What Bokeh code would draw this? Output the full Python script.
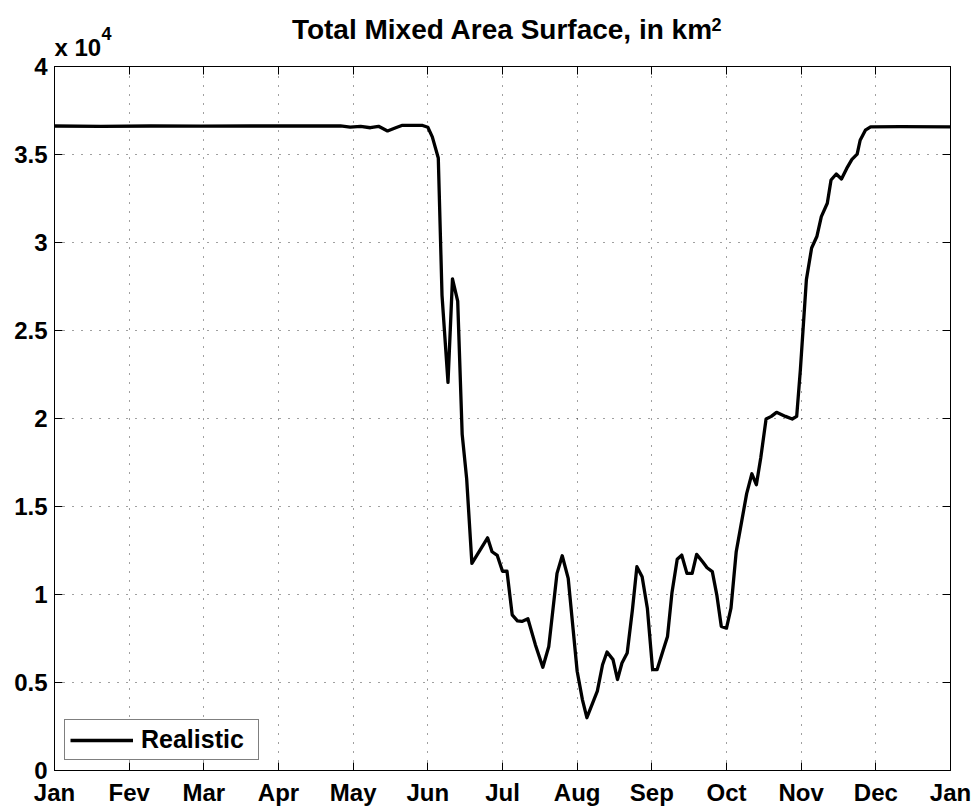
from bokeh.plotting import figure
from bokeh.models import (Range1d, FixedTicker, LinearAxis, Title,
                          CustomJSTickFormatter, CustomLabelingPolicy)
from bokeh.embed import file_html
from bokeh.resources import INLINE

# ---------------- data ----------------
month_labels = ["Jan", "Fev", "Mar", "Apr", "May", "Jun", "Jul", "Aug",
                "Sep", "Oct", "Nov", "Dec", "Jan"]
month_ticks = list(range(13))
y_ticks = [0, 0.5, 1, 1.5, 2, 2.5, 3, 3.5, 4]

# time in months since 1 Jan
time_month = [0.00, 0.62, 1.29, 1.96, 2.63, 3.30, 3.83, 3.96, 4.10, 4.23,
              4.34, 4.46, 4.57, 4.66, 4.93, 5.00, 5.06, 5.14, 5.19, 5.27,
              5.33, 5.40, 5.46, 5.52, 5.59, 5.80, 5.86, 5.93, 6.00, 6.06,
              6.13, 6.20, 6.26, 6.34, 6.44, 6.54, 6.62, 6.73, 6.80, 6.88,
              7.00, 7.07, 7.13, 7.27, 7.34, 7.40, 7.48, 7.54, 7.60, 7.67,
              7.74, 7.80, 7.87, 7.94, 8.01, 8.07, 8.14, 8.21, 8.27, 8.34,
              8.40, 8.47, 8.54, 8.60, 8.68, 8.74, 8.81, 8.87, 8.93, 9.00,
              9.06, 9.13, 9.19, 9.27, 9.34, 9.40, 9.46, 9.53, 9.60, 9.67,
              9.79, 9.88, 9.94, 9.99, 10.07, 10.14, 10.21, 10.27, 10.35, 10.40,
              10.47, 10.54, 10.61, 10.68, 10.75, 10.79, 10.86, 10.93, 11.33, 12.00]

# total mixed area, in units of 10^4 km^2
realistic_area = [3.662, 3.660, 3.662, 3.661, 3.662, 3.662, 3.662, 3.655, 3.660, 3.652,
                  3.660, 3.634, 3.652, 3.666, 3.665, 3.655, 3.600, 3.480, 2.700, 2.205,
                  2.793, 2.667, 1.910, 1.658, 1.177, 1.322, 1.243, 1.222, 1.132, 1.132,
                  0.884, 0.850, 0.847, 0.862, 0.715, 0.587, 0.705, 1.120, 1.220, 1.092,
                  0.564, 0.403, 0.300, 0.451, 0.601, 0.673, 0.630, 0.517, 0.611, 0.668,
                  0.913, 1.158, 1.101, 0.922, 0.573, 0.573, 0.668, 0.762, 1.012, 1.200,
                  1.224, 1.120, 1.120, 1.228, 1.186, 1.152, 1.130, 0.998, 0.819, 0.809,
                  0.922, 1.243, 1.384, 1.573, 1.686, 1.624, 1.780, 1.997, 2.012, 2.035,
                  2.012, 1.997, 2.012, 2.280, 2.789, 2.969, 3.034, 3.147, 3.223, 3.355,
                  3.389, 3.361, 3.421, 3.472, 3.502, 3.581, 3.638, 3.657, 3.658, 3.657]

FONT = "Liberation Sans"

p = figure(width=973, height=808, output_backend="svg", toolbar_location=None,
           x_range=Range1d(0, 12), y_range=Range1d(0, 4),
           min_border_left=54, min_border_right=23, min_border_top=66,
           min_border_bottom=35)
p.background_fill_color = "white"
p.border_fill_color = "white"
p.outline_line_color = "black"
p.outline_line_width = 1

xt = FixedTicker(ticks=month_ticks)
yt = FixedTicker(ticks=y_ticks)
hide_all = "for (const i of indices) { indices.unset(i) }\nreturn indices"

def style_axis(ax, show_labels):
    ax.axis_line_color = "black"
    ax.axis_line_width = 1
    ax.major_tick_in = 8
    ax.major_tick_out = 0
    ax.major_tick_line_color = "black"
    ax.minor_tick_in = 0
    ax.minor_tick_out = 0
    ax.major_label_text_font = FONT
    ax.major_label_text_font_style = "bold"
    ax.major_label_text_color = "black"
    if show_labels:
        ax.major_label_text_font_size = "24px"
        ax.major_label_standoff = 7
    else:
        ax.major_label_text_font_size = "1px"
        ax.major_label_standoff = 0
        ax.major_label_policy = CustomLabelingPolicy(code=hide_all)

p.xaxis.ticker = xt
p.xaxis.major_label_overrides = {t: m for t, m in zip(month_ticks, month_labels)}
style_axis(p.xaxis[0], True)
p.xaxis.major_label_standoff = 8
p.yaxis.ticker = yt
p.yaxis.formatter = CustomJSTickFormatter(code="return String(tick);")
style_axis(p.yaxis[0], True)

top = LinearAxis(ticker=xt)
style_axis(top, False)
p.add_layout(top, "above")
right = LinearAxis(ticker=yt)
style_axis(right, False)
p.add_layout(right, "right")

p.xgrid.ticker = xt
p.ygrid.ticker = yt
for g in (p.xgrid[0], p.ygrid[0]):
    g.grid_line_color = "black"
    g.grid_line_alpha = 0.75
    g.grid_line_width = 1
    g.grid_line_dash = "1 8"

p.line(time_month, realistic_area, line_color="black", line_width=3.3,
       line_join="round", legend_label="Realistic")

def title(text, size, align, offset, standoff):
    return Title(text=text, align=align, offset=offset, standoff=standoff,
                 text_font=FONT, text_font_style="bold",
                 text_font_size=size, text_color="black")

# texts above the frame, stacked outward from the frame in this order:
# "x 10", its exponent "4", the main title, then the exponent "2" of km^2
p.add_layout(title("x 10", "24px", "left", 0, 3), "above")
p.add_layout(title("4", "18px", "left", 47, -19), "above")
p.add_layout(title("Total Mixed Area Surface, in km", "28px", "center", 0, -28), "above")
p.add_layout(title("2", "18px", "left", 657, -10), "above")
p.title.text = ""
p.title.standoff = 0

lg = p.legend[0]
lg.location = "bottom_left"
lg.margin = 10
lg.padding = 5
lg.spacing = 0
lg.border_line_color = "black"
lg.border_line_width = 1.2
lg.background_fill_color = "white"
lg.background_fill_alpha = 1
lg.label_text_font = FONT
lg.label_text_font_style = "bold"
lg.label_text_font_size = "25px"
lg.label_text_color = "black"
lg.glyph_width = 63
lg.glyph_height = 26
lg.label_standoff = 8
lg.label_width = 112

open("out.html", "w").write(file_html(p, INLINE))
